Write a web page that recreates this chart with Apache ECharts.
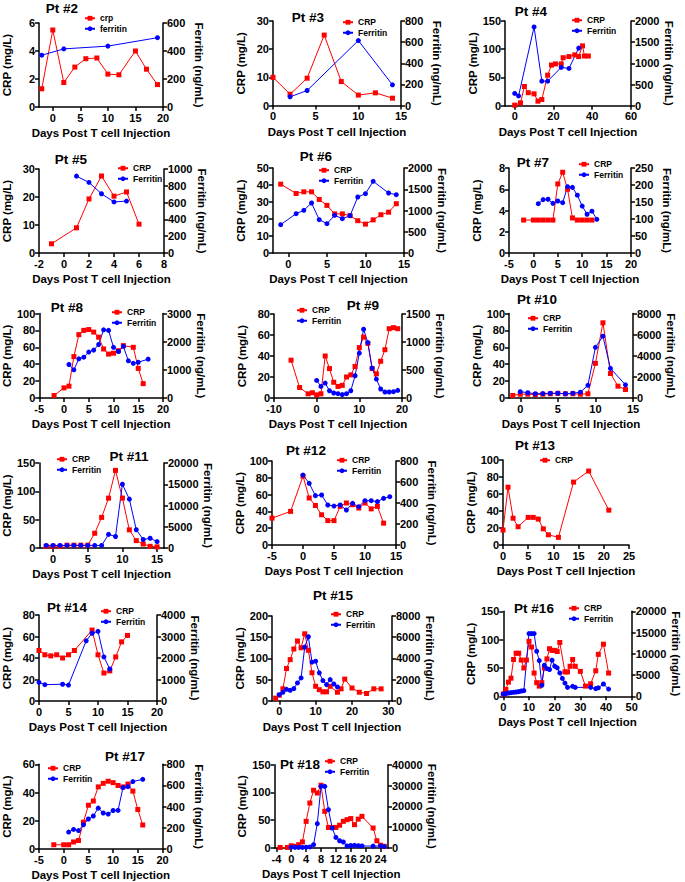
<!DOCTYPE html>
<html>
<head>
<meta charset="utf-8">
<script src="https://cdn.jsdelivr.net/npm/echarts@6/dist/echarts.min.js"></script>
<style>html,body{margin:0;padding:0;background:#fff;}#c{width:685px;height:882px;}</style>
</head>
<body>
<div id="c"></div>
<script>
// ---------- DATA ([day, value]) ----------
const pt2Crp = [[-2,1.3],[0,5.5],[2,1.75],[4,2.85],[6,3.45],[8,3.5],[10,2.35],[12,2.3],[15,4.0],[17,2.7],[19,1.6]];
const pt2Fer = [[-2,370],[2,415],[10,435],[19,495]];
const pt3Crp = [[0,10],[2,4],[4,9.7],[6,25],[8,8.5],[10,3.7],[12,4.5],[14,2.6]];
const pt3Fer = [[2,82],[4,142],[10,615],[14,196]];
const pt4Crp = [[0,1],[3,5],[5,34],[7,23],[10,21],[12,8],[14,11],[17,54],[19,72],[21,74],[24,74],[25,85],[28,87],[31,90],[33,87],[35,106],[36,88],[38,88]];
const pt4Fer = [[0,290],[2,230],[10,1860],[14,580],[17,580],[24,905],[28,880],[33,1360]];
const pt5Crp = [[-1,3.3],[1,9],[2,19.3],[3,27.5],[4,20.3],[5,21.8],[6,10.3]];
const pt5Fer = [[1,915],[2,840],[3,705],[4,608],[5,618]];
const pt6Crp = [[-1,40.5],[1,35],[2,36],[3,36],[4,31.5],[5,28],[6,23],[7,23],[8,22],[9,19],[10,17],[11,19.5],[12,22.5],[13,24],[14,29]];
const pt6Fer = [[-1,667],[1,925],[2,1004],[3,1176],[4,784],[5,690],[6,886],[7,808],[8,878],[9,1318],[10,1396],[11,1686],[13,1412],[14,1372]];
const pt7Crp = [[-2,3.1],[0,3.1],[1,3.1],[2,3.1],[3,3.1],[4,3.1],[5,6.5],[6,7.6],[7,6],[8,3.3],[9,3.1],[10,3.1],[11,3.1],[12,3.1]];
const pt7Fer = [[1,145],[2,157],[3,158],[4,146],[5,153],[6,148],[7,195],[8,193],[9,170],[10,138],[11,114],[12,123],[13,99]];
const pt8Crp = [[-2,3],[0,12],[1,14],[2,49],[3,75],[4,80],[5,81],[6,78],[7,72],[8,58],[9,52],[10,53],[11,56],[12,62],[14,60],[15,35],[16,17]];
const pt8Fer = [[1,1190],[2,1000],[3,1390],[4,1450],[5,1630],[6,1700],[7,1900],[8,2420],[9,2400],[10,1800],[11,1650],[12,1830],[13,1320],[14,1230],[15,1270],[17,1380]];
const pt9Crp = [[-6,36],[-4,10],[-2,4],[-1,5],[0,3],[1,4],[2,40],[3,28],[4,15],[5,11],[6,12],[7,20],[8,22],[9,30],[10,48],[11,58],[12,52],[13,28],[14,23],[15,35],[16,46],[17,66],[18,67],[19,66]];
const pt9Fer = [[0,314],[1,207],[2,267],[3,130],[4,89],[5,77],[6,60],[7,77],[8,130],[9,397],[10,800],[11,1227],[12,990],[13,533],[14,338],[15,160],[16,107],[17,107],[18,113],[19,136]];
const pt10Crp = [[-1,3],[0,4.5],[1,4.5],[2,4],[3,4.5],[4,5],[5,5.5],[6,5],[7,5],[8,4.5],[9,5],[10,41],[11,89],[12,29],[13,14],[14,10]];
const pt10Fer = [[0,600],[1,500],[2,400],[3,420],[4,450],[5,450],[6,400],[7,450],[8,550],[9,1200],[10,4800],[11,5850],[12,2800],[14,1250]];
const pt11Crp = [[-1,3],[0,3],[1,3],[2,5],[3,5],[4,5],[5,5],[6,26],[7,54],[8,88],[9,137],[10,88],[11,32],[12,13],[13,7],[14,3],[15,2]];
const pt11Fer = [[-1,600],[0,600],[1,600],[2,600],[3,600],[4,600],[5,600],[6,600],[7,600],[8,3200],[9,2700],[10,15000],[11,11500],[12,4300],[13,2000],[14,2300],[15,1500]];
const pt12Crp = [[-5,32],[-2,40],[0,82],[1,56],[2,47],[3,36],[4,29],[5,29],[6,46],[7,50],[8,48],[9,44],[10,50],[11,43],[12,46],[13,26]];
const pt12Fer = [[0,666],[1,587],[2,470],[3,476],[4,381],[5,371],[6,381],[7,333],[8,397],[9,365],[10,422],[11,422],[12,413],[13,444],[14,460]];
const pt13Crp = [[0,17.6],[1,68],[2,31.5],[3,21.5],[5,32.5],[6,32.5],[7,30.5],[8,19],[9,12],[11,9],[14,74],[17,87],[21,41]];
const pt14Crp = [[0,47],[1,43],[2,42],[3,43],[4,40],[5,43],[6,47],[9,66],[10,43],[11,26],[12,28],[13,41],[14,55],[15,61]];
const pt14Fer = [[0,870],[1,760],[4,780],[5,740],[8,2800],[9,3150],[10,3240],[11,2050],[12,1490]];
const pt15Crp = [[-1,6],[0,13],[1,28],[2,76],[3,97],[4,122],[5,141],[6,125],[7,158],[8,119],[9,66],[10,34],[11,26],[12,21],[13,21],[14,34],[16,20],[17,28],[18,51],[20,30],[22,20],[24,17],[26,28],[28,28]];
const pt15Fer = [[0,570],[1,790],[2,1075],[3,980],[4,1140],[5,1680],[6,2150],[7,5060],[8,6040],[9,3640],[10,3730],[11,2630],[12,1900],[13,1520],[14,1990],[15,1580],[16,1300]];
const pt16Crp = [[0,4],[1,12],[2,25],[3,32],[4,65],[5,76],[6,76],[7,64],[8,50],[9,64],[10,97],[11,87],[12,41],[13,24],[14,18],[15,24],[16,50],[17,66],[18,84],[19,81],[20,81],[21,79],[22,95],[24,43],[25,43],[26,53],[27,65],[28,53],[30,44],[32,18],[34,22],[36,45],[37,74],[39,92],[41,41]];
const pt16Fer = [[0,550],[1,630],[2,780],[3,860],[4,940],[5,1020],[6,1100],[7,1250],[8,1330],[10,14750],[11,14750],[12,14750],[13,10600],[14,8400],[15,2600],[16,7300],[17,6500],[18,6300],[19,8500],[20,7100],[21,6700],[22,5500],[23,4200],[24,3100],[25,2100],[27,2350],[28,2100],[34,2100],[36,1800],[37,2000],[39,2900],[41,1700]];
const pt17Crp = [[-2,3],[0,3],[1,3],[2,5],[3,6],[4,19],[5,31],[6,34],[7,44],[8,46.5],[9,48],[10,47],[11,45],[12,44],[13,46],[14,41],[15,28],[16,17]];
const pt17Fer = [[1,160],[2,185],[3,174],[4,229],[5,283],[6,312],[7,386],[8,340],[9,330],[10,364],[11,365],[12,580],[13,589],[14,637],[16,658]];
const pt18Crp = [[-3,1],[-1,1],[0,4],[1,3],[2,6],[3,11],[4,48],[5,81],[6,104],[7,99],[8,113],[9,66],[10,37],[11,37],[12,37],[13,41],[14,48],[15,51],[16,53],[17,42],[18,52],[19,57],[22,36],[23,13],[24,5],[25,3]];
const pt18Fer = [[0,400],[1,300],[2,300],[3,300],[4,400],[5,500],[6,1600],[7,11700],[8,29600],[9,29600],[10,18400],[11,9600],[12,5100],[13,3500],[14,2900],[15,1000],[16,1200],[17,1300],[18,1100],[19,1000],[22,900],[24,1000],[25,700]];

// ---------- TICKS ----------
const pt2Ticks = {x:[0,5,10,15,20], crp:[0,2,4,6], fer:[0,200,400,600]};
const pt3Ticks = {x:[0,5,10,15], crp:[0,10,20,30], fer:[0,200,400,600,800]};
const pt4Ticks = {x:[0,20,40,60], crp:[0,50,100,150], fer:[0,500,1000,1500,2000]};
const pt5Ticks = {x:[-2,0,2,4,6,8], crp:[0,10,20,30], fer:[0,200,400,600,800,1000]};
const pt6Ticks = {x:[0,5,10,15], crp:[0,10,20,30,40,50], fer:[0,500,1000,1500,2000]};
const pt7Ticks = {x:[-5,0,5,10,15,20], crp:[0,2,4,6,8], fer:[0,50,100,150,200,250]};
const pt8Ticks = {x:[-5,0,5,10,15,20], crp:[0,20,40,60,80,100], fer:[0,1000,2000,3000]};
const pt9Ticks = {x:[-10,0,10,20], crp:[0,20,40,60,80], fer:[0,500,1000,1500]};
const pt10Ticks = {x:[0,5,10,15], crp:[0,20,40,60,80,100], fer:[0,2000,4000,6000,8000]};
const pt11Ticks = {x:[0,5,10,15], crp:[0,50,100,150], fer:[0,5000,10000,15000,20000]};
const pt12Ticks = {x:[-5,0,5,10,15], crp:[0,20,40,60,80,100], fer:[0,200,400,600,800]};
const pt13Ticks = {x:[0,5,10,15,20,25], crp:[0,20,40,60,80,100], fer:null};
const pt14Ticks = {x:[0,5,10,15,20], crp:[0,20,40,60,80], fer:[0,1000,2000,3000,4000]};
const pt15Ticks = {x:[0,10,20,30], crp:[0,50,100,150,200], fer:[0,2000,4000,6000,8000]};
const pt16Ticks = {x:[0,10,20,30,40,50], crp:[0,50,100,150], fer:[0,5000,10000,15000,20000]};
const pt17Ticks = {x:[-5,0,5,10,15,20], crp:[0,20,40,60], fer:[0,200,400,600,800]};
const pt18Ticks = {x:[-4,0,4,8,12,16,20,24], crp:[0,50,100,150], fer:[0,10000,20000,30000,40000]};

// ---------- LAYOUT (pixels) ----------
const panels = [
 {t:'Pt #2', crp:pt2Crp, fer:pt2Fer, tk:pt2Ticks, xr:[-2.5,20], box:[39,23,163,107], tp:[62,8], lg:[84,13], nm:['crp','ferritin']},
 {t:'Pt #3', crp:pt3Crp, fer:pt3Fer, tk:pt3Ticks, xr:[0,15], box:[273,21,401,105.5], tp:[308,17], lg:[342,17]},
 {t:'Pt #4', crp:pt4Crp, fer:pt4Fer, tk:pt4Ticks, xr:[-5,60], box:[505,21,631,105.7], tp:[531,11], lg:[571,15]},
 {t:'Pt #5', crp:pt5Crp, fer:pt5Fer, tk:pt5Ticks, xr:[-2,8], box:[39,169,164,253], tp:[71,159], lg:[117,163]},
 {t:'Pt #6', crp:pt6Crp, fer:pt6Fer, tk:pt6Ticks, xr:[-2,15], box:[273,168,404,253], tp:[316,156], lg:[318,165]},
 {t:'Pt #7', crp:pt7Crp, fer:pt7Fer, tk:pt7Ticks, xr:[-5,20], box:[509,168,631,253], tp:[533,162], lg:[578,159]},
 {t:'Pt #8', crp:pt8Crp, fer:pt8Fer, tk:pt8Ticks, xr:[-5,20], box:[39,313.5,163,398], tp:[67,307], lg:[111,307]},
 {t:'Pt #9', crp:pt9Crp, fer:pt9Fer, tk:pt9Ticks, xr:[-10,20], box:[274,314,402,398], tp:[363,305], lg:[296,305]},
 {t:'Pt #10', crp:pt10Crp, fer:pt10Fer, tk:pt10Ticks, xr:[-1.5,15], box:[509,313.5,633,398], tp:[537,299], lg:[527,313]},
 {t:'Pt #11', crp:pt11Crp, fer:pt11Fer, tk:pt11Ticks, xr:[-2,16], box:[39,463,164,548], tp:[129,456], lg:[56,454]},
 {t:'Pt #12', crp:pt12Crp, fer:pt12Fer, tk:pt12Ticks, xr:[-5,15], box:[272,461,396,545], tp:[306,450], lg:[336,455]},
 {t:'Pt #13', crp:pt13Crp, fer:null, tk:pt13Ticks, xr:[0,25], box:[503,460,629,545], tp:[535,445], lg:[539,455]},
 {t:'Pt #14', crp:pt14Crp, fer:pt14Fer, tk:pt14Ticks, xr:[0,20], box:[37,615,157,701], tp:[67,607], lg:[100,606]},
 {t:'Pt #15', crp:pt15Crp, fer:pt15Fer, tk:pt15Ticks, xr:[-2,31], box:[272,616,392,700.7], tp:[333,595], lg:[330,609]},
 {t:'Pt #16', crp:pt16Crp, fer:pt16Fer, tk:pt16Ticks, xr:[0,50], box:[503.3,611.3,631.7,696.3], tp:[534,608], lg:[568,603]},
 {t:'Pt #17', crp:pt17Crp, fer:pt17Fer, tk:pt17Ticks, xr:[-5,20], box:[36,764.3,162.5,849], tp:[125,756], lg:[47,763]},
 {t:'Pt #18', crp:pt18Crp, fer:pt18Fer, tk:pt18Ticks, xr:[-4.5,26], box:[274.5,764.7,388,848], tp:[300,764], lg:[324,756]}
];

const FONT = '"Liberation Sans", Arial, Helvetica, sans-serif';
const RED = '#ff0000', BLUE = '#0000ff';
const lineAx = {lineStyle:{color:'#000', width:1.5}};
const tickStyle = {color:'#000', width:1.5};
const lblStyle = {color:'#000', fontWeight:'bold', fontSize:11, fontFamily:FONT};
const nameStyle = {color:'#000', fontWeight:'bold', fontSize:11.5, fontFamily:FONT};
const fmt = v => String(v);

const grid = [], xAxis = [], yAxis = [], series = [], legend = [], graphic = [];
panels.forEach((p, i) => {
  const [l, t, r, b] = p.box;
  grid.push({left:l, top:t, width:r - l, height:b - t, containLabel:false});
  xAxis.push({
    gridIndex:i, type:'value', min:p.xr[0], max:p.xr[1],
    axisLine:{onZero:false, ...lineAx},
    axisTick:{show:true, inside:false, length:4, lineStyle:tickStyle, customValues:p.tk.x},
    axisLabel:{...lblStyle, margin:5, customValues:p.tk.x, formatter:fmt},
    splitLine:{show:false},
    name:'Days Post T cell Injection', nameLocation:'middle', nameGap:20, nameTextStyle:nameStyle
  });
  const crpT = p.tk.crp;
  const yL = yAxis.length;
  yAxis.push({
    gridIndex:i, type:'value', position:'left', min:crpT[0], max:crpT[crpT.length-1], interval:crpT[1]-crpT[0],
    axisLine:{show:true, onZero:false, ...lineAx},
    axisTick:{show:true, inside:false, length:4, lineStyle:tickStyle},
    axisLabel:{...lblStyle, margin:4, formatter:fmt},
    splitLine:{show:false},
    name:'CRP (mg/L)', nameLocation:'middle', nameGap:26, nameRotate:90, nameTextStyle:nameStyle
  });
  const names = p.nm || ['CRP','Ferritin'];
  series.push({
    type:'line', name:names[0], xAxisIndex:i, yAxisIndex:yL, data:p.crp,
    symbol:'rect', symbolSize:5, clip:false,
    itemStyle:{color:RED}, lineStyle:{color:RED, width:1}, animation:false
  });
  const lgData = [names[0]];
  if (p.fer) {
    const ferT = p.tk.fer;
    const yR = yAxis.length;
    yAxis.push({
      gridIndex:i, type:'value', position:'right', min:ferT[0], max:ferT[ferT.length-1], interval:ferT[1]-ferT[0],
      axisLine:{show:true, onZero:false, ...lineAx},
      axisTick:{show:true, inside:false, length:4, lineStyle:tickStyle},
      axisLabel:{...lblStyle, margin:4, formatter:fmt},
      splitLine:{show:false},
      name:'Ferritin (ng/mL)', nameLocation:'middle', nameGap:30, nameRotate:-90, nameTextStyle:nameStyle
    });
    series.push({
      type:'line', name:names[1], xAxisIndex:i, yAxisIndex:yR, data:p.fer,
      symbol:'circle', symbolSize:5, clip:false,
      itemStyle:{color:BLUE}, lineStyle:{color:BLUE, width:1}, animation:false
    });
    lgData.push(names[1]);
  }
  legend.push({
    data:lgData, left:p.lg[0], top:p.lg[1], orient:'vertical', itemGap:0, itemWidth:10, itemHeight:6,
    padding:0, selectedMode:false,
    textStyle:{color:'#000', fontWeight:'bold', fontSize:8.5, fontFamily:FONT, lineHeight:10.5}
  });
  graphic.push({
    type:'text', x:p.tp[0], y:p.tp[1],
    style:{text:p.t, fill:'#000', font:'bold 13.5px ' + FONT, textAlign:'center', textVerticalAlign:'middle'}
  });
});

const chart = echarts.init(document.getElementById('c'), null, {renderer:'svg'});
chart.setOption({
  backgroundColor:'#fff',
  animation:false,
  grid, xAxis, yAxis, series, legend, graphic
});
</script>
</body>
</html>
